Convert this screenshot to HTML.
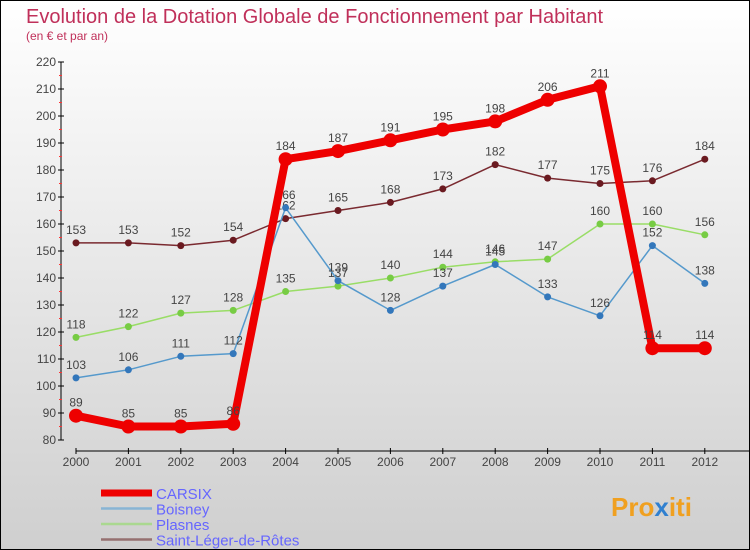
<!DOCTYPE html>
<html><head><meta charset="utf-8"><style>
body{margin:0}
#c{width:748px;height:548px;border:1px solid #000;background:linear-gradient(#fff,#cfcfcf);position:relative;font-family:"Liberation Sans",sans-serif;overflow:hidden}
</style></head><body>
<div id="c">
<svg id="s" width="748" height="548" xmlns="http://www.w3.org/2000/svg">
<text x="25" y="22" font-size="20" fill="#c0305a">Evolution de la Dotation Globale de Fonctionnement par Habitant</text>
<text x="25" y="39" font-size="12" fill="#c0305a">(en € et par an)</text>
<g id="axes"></g><g id="series"></g><g id="legend"></g>
<text x="610" y="515" font-size="26" font-weight="bold"><tspan fill="#f0a020">Pro</tspan><tspan fill="#3080d0">x</tspan><tspan fill="#f0a020">iti</tspan></text>
</svg></div>
<script>
const years=[2000,2001,2002,2003,2004,2005,2006,2007,2008,2009,2010,2011,2012];
const yTicks=[80,90,100,110,120,130,140,150,160,170,180,190,200,210,220];
const carsix=[89,85,85,86,184,187,191,195,198,206,211,114,114];
const boisney=[103,106,111,112,166,139,128,137,145,133,126,152,138];
const plasnes=[118,122,127,128,135,137,140,144,146,147,160,160,156];
const saintLeger=[153,153,152,154,162,165,168,173,182,177,175,176,184];
const seriesNames=['CARSIX','Boisney','Plasnes','Saint-Léger-de-Rôtes'];
const NS='http://www.w3.org/2000/svg';
const X=i=>75+i*52.4;
const Y=v=>439-(v-80)*(378/140);
function mk(t,a,p){const e=document.createElementNS(NS,t);for(const k in a)e.setAttribute(k,a[k]);p.appendChild(e);return e;}
const ax=document.getElementById('axes');
let yl=mk('line',{x1:60,y1:Y(220),x2:60,y2:Y(80),stroke:'#000'},ax);

yTicks.forEach((v,i)=>{
 mk('line',{x1:57,y1:Y(v),x2:63,y2:Y(v),stroke:'#000'},ax);
 if(i<yTicks.length-1)mk('line',{x1:58,y1:Y(v+5),x2:61,y2:Y(v+5),stroke:'#f33'},ax);
 const t=mk('text',{x:55,y:Y(v)+4,'font-size':12,fill:'#444','text-anchor':'end'},ax);t.textContent=v;
 
});
let xl=mk('line',{x1:75,y1:450,x2:748,y2:450,stroke:'#000'},ax);

years.forEach((y,i)=>{
 mk('line',{x1:X(i),y1:447,x2:X(i),y2:453,stroke:'#000'},ax);
 const t=mk('text',{x:X(i),y:465,'font-size':12,fill:'#444','text-anchor':'middle'},ax);t.textContent=y;
 
});
const sg=document.getElementById('series');
const defs=[[saintLeger,'#7a2a30','#6a1a20',1.5,3.5,'saint-leger'],[plasnes,'#99dd66','#77cc44',1.5,3.5,'plasnes'],[boisney,'#5599cc','#3377bb',1.5,3.5,'boisney'],[carsix,'#ee0000','#ee0000',8,7,'carsix']];
defs.forEach(([d,c,pc,w,r,n])=>{
 const l=mk('polyline',{points:d.map((v,i)=>X(i)+','+Y(v)).join(' '),fill:'none',stroke:c,'stroke-width':w,'stroke-linejoin':'round'},sg);
 
 d.forEach((v,i)=>{
  const p=mk('circle',{cx:X(i),cy:Y(v),r:r,fill:pc},sg);
  
  const t=mk('text',{x:X(i),y:Y(v)-9,'font-size':12,fill:'#444','text-anchor':'middle'},sg);t.textContent=v;
  
 });
});
const lg=document.getElementById('legend');
const lc=[['#ee0000',7],['#88b4d4',2.5],['#aad890',2.5],['#957070',2.5]];
seriesNames.forEach((s,i)=>{
 const y=492+i*15.5;
 const l=mk('line',{x1:100,y1:y,x2:151,y2:y,stroke:lc[i][0],'stroke-width':lc[i][1]},lg);
 
 const t=mk('text',{x:155,y:y+6,'font-size':15,fill:'#6666ff'},lg);t.textContent=s;
 
});
</script>
</body></html>
